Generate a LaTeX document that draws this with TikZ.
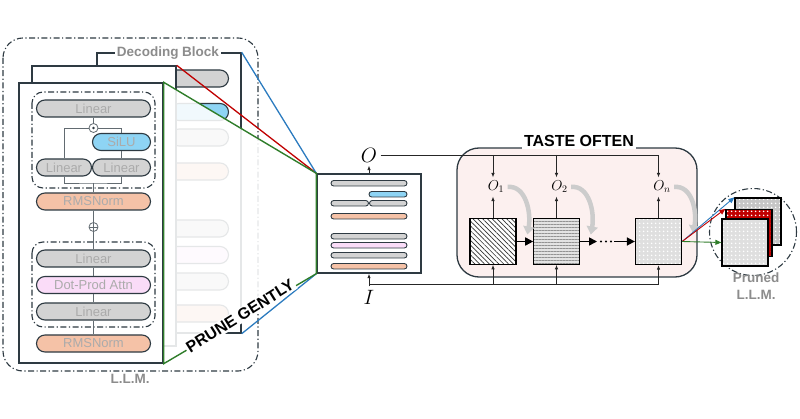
\documentclass[tikz,border=0pt]{standalone}
\usepackage{fontspec}
\setmainfont{Liberation Sans}
\usetikzlibrary{arrows.meta,patterns,patterns.meta,calc}

\definecolor{edge}{HTML}{2E3A42}
\definecolor{lingray}{HTML}{D3D3D3}
\definecolor{silublue}{HTML}{8ED4F4}
\definecolor{normsalmon}{HTML}{F5C2A7}
\definecolor{attnpink}{HTML}{FADCF8}
\definecolor{fadetext}{HTML}{ABABAB}
\definecolor{labelgray}{HTML}{8C8C8C}
\definecolor{tastebg}{HTML}{FCF0EF}
\definecolor{coneblue}{HTML}{2B7BBF}
\definecolor{conered}{HTML}{C00000}
\definecolor{conegreen}{HTML}{2F7D2A}

\tikzset{
  layerbox/.style={draw=edge,line width=1.1pt,rounded corners=8.5pt,inner sep=0pt,minimum height=17pt,text=fadetext,font=\fontsize{13}{13}\selectfont},
  wire/.style={draw=edge!75,line width=0.9pt},
  panel/.style={draw=edge,line width=1.4pt,fill=white,inner sep=0pt},
  dashdot/.style={draw=edge,line width=1.1pt,dash pattern=on 6pt off 2.5pt on 1.2pt off 2.5pt},
  groupbox/.style={dashdot,rounded corners=11pt},
  junction/.style={circle,draw=edge!75,line width=0.8pt,fill=white,inner sep=0pt,minimum size=9pt},
  bar/.style={draw=edge,line width=0.9pt,rounded corners=2.7pt},
  sig/.style={draw=black!85,line width=0.8pt},
  sigarrow/.style={sig,-{Latex[length=4.5pt,width=3.5pt]}},
  flow/.style={draw=black,line width=1.6pt,-{Triangle[length=8pt,width=8pt]}},
  hint/.style={draw=gray!40,line width=4.5pt,-{Triangle[length=8pt,width=11pt]}},
  tilebox/.style={draw=black,line width=1.3pt,minimum width=46pt,minimum height=46pt,inner sep=0pt},
  outarrow/.style={line width=0.9pt,-{Triangle[length=6pt,width=5pt]}},
  grayhead/.style={text=labelgray,font=\bfseries\fontsize{13.5}{17}\selectfont},
  boldhead/.style={text=black,font=\bfseries\fontsize{16}{16}\selectfont},
}

\newcommand{\showlabel}[1]{#1}
\newcommand{\blanklabel}[1]{}
\newcommand{\decodingbody}[2]{%
  \node[panel,minimum width=144pt,minimum height=280pt] (#1panel) at (91,223) {};
  \node[layerbox,fill=lingray,minimum width=114pt] (#1up) at (93.5,108.5) {#2{Linear}};
  \node[layerbox,fill=silublue,minimum width=58pt] (#1silu) at (121.5,142) {#2{SiLU}};
  \node[layerbox,fill=lingray,minimum width=55pt] (#1gate) at (64,167.5) {#2{Linear}};
  \node[layerbox,fill=lingray,minimum width=58pt] (#1val) at (121.5,167.5) {#2{Linear}};
  \node[layerbox,fill=normsalmon,minimum width=114pt] (#1norm) at (93.5,201.5) {#2{RMSNorm}};
  \node[layerbox,fill=lingray,minimum width=114pt] (#1out) at (93.5,258.5) {#2{Linear}};
  \node[layerbox,fill=attnpink,minimum width=114pt] (#1attn) at (93.5,285) {#2{Dot-Prod Attn}};
  \node[layerbox,fill=lingray,minimum width=114pt] (#1qkv) at (93.5,311.5) {#2{Linear}};
  \node[layerbox,fill=normsalmon,minimum width=114pt] (#1pre) at (93.5,343.5) {#2{RMSNorm}};
}
\newcommand{\decodingwires}[1]{%
  \draw[groupbox] (32,92) rectangle (155,188);
  \draw[groupbox] (32,242) rectangle (155,327);
  \node[junction] (#1mul) at (93.5,128) {};
  \fill[edge] (#1mul) circle (1.3pt);
  \node[junction] (#1add) at (93.5,227) {};
  \draw[edge!75,line width=0.8pt] (#1add.north) -- (#1add.south) (#1add.west) -- (#1add.east);
  \coordinate (#1join) at (93.5,183);
  \draw[wire] (#1up) -- (#1mul);
  \draw[wire] (#1gate.north) |- (#1mul.west);
  \draw[wire] (#1silu.north) |- (#1mul.east);
  \draw[wire] (#1silu) -- (#1val);
  \draw[wire] (#1gate.south) |- (#1join) -| (#1val.south);
  \draw[wire] (#1join) -- (#1norm);
  \draw[wire] (#1norm) -- (#1add);
  \draw[wire] (#1add) -- (#1out);
  \draw[wire] (#1out) -- (#1attn);
  \draw[wire] (#1attn) -- (#1qkv);
  \draw[wire] (#1qkv) -- (#1pre);
}

\begin{document}
\begin{tikzpicture}[x=1pt,y=-1pt]
\useasboundingbox (0,0) rectangle (800,419);

\draw[groupbox,rounded corners=20pt] (3,38) rectangle (258,371);
\node[grayhead] (llm) at (130,379) {L.L.M.};

\begin{scope}[shift={(78,-30)}]
\decodingbody{b}{\blanklabel}
\end{scope}
\node[grayhead,fill=white,inner sep=1.5pt] (declabel) at (168,53) {Decoding Block};
\node[panel,minimum width=144pt,minimum height=280pt] (mpanel) at (104,206) {};
\decodingbody{f}{\showlabel}
\decodingwires{f}

\node[panel,minimum width=104pt,minimum height=99pt] (dec) at (369,223.5) {};
\draw[bar,fill=lingray] (331,180.5) rectangle (407,186);
\draw[bar,fill=silublue] (369,191.5) rectangle (407,197);
\draw[bar,fill=lingray] (331,200.5) rectangle (368.5,206);
\draw[bar,fill=lingray] (369.5,200.5) rectangle (407,206);
\draw[bar,fill=normsalmon] (331,213.5) rectangle (407,219);
\draw[bar,fill=lingray] (331,233.5) rectangle (407,239);
\draw[bar,fill=attnpink] (331,242.5) rectangle (407,248);
\draw[bar,fill=lingray] (331,252.5) rectangle (407,258);
\draw[bar,fill=normsalmon] (331,263.5) rectangle (407,269);

\fill[white,opacity=0.88] (fpanel.north east) -- (dec.north west) -- (dec.south west) -- (fpanel.south east) -- cycle;
\draw[conered,line width=1.3pt] (mpanel.north east) -- (dec.north west);
\draw[coneblue,line width=1.3pt] (bpanel.north east) -- (dec.north west) (bpanel.south east) -- (dec.south west);
\draw[conegreen,line width=1.4pt] (fpanel.north east) -- (dec.north west) -- (dec.south west) -- (fpanel.south east) -- cycle;
\node[boldhead,fill=white,rotate=32,inner sep=1.5pt] (prune) at (240,316) {PRUNE GENTLY};

\node[font=\fontsize{20.74}{21}\selectfont] (O) at (369,155) {$O$};
\node[font=\fontsize{20.74}{21}\selectfont] (I) at (369,297) {$I$};
\draw[sigarrow] (dec) -- (O);
\draw[sigarrow] (I) -- (dec);
\coordinate (ibus) at (369,284);

\node[draw=edge,line width=1.3pt,fill=tastebg,rounded corners=22pt,minimum width=240pt,minimum height=129pt] (taste) at (577,212.5) {};
\node[boldhead,fill=white,inner sep=2pt] (tastelabel) at (579,141) {TASTE OFTEN};

\node[tilebox,pattern={Lines[angle=-45,distance=3.4pt,line width=0.7pt]},pattern color=black!80,preaction={fill=white}] (sq1) at (493,241.5) {};
\node[tilebox,preaction={fill=gray!22},pattern={Lines[angle=0,distance=3pt,line width=0.6pt]},pattern color=gray!85] (sq2) at (556.5,241.5) {};
\node[tilebox,preaction={fill=gray!25},pattern={Dots[distance=4pt,radius=1pt]},pattern color=white] (sq3) at (658.5,241.5) {};

\node[font=\fontsize{14.4}{15}\selectfont] (O1) at (496,187) {$O_1$};
\node[font=\fontsize{14.4}{15}\selectfont] (O2) at (559.5,187) {$O_2$};
\node[font=\fontsize{14.4}{15}\selectfont] (On) at (662,187) {$O_n$};

\draw[sigarrow] (O.east) -| (sq3 |- On.north);
\draw[sigarrow] (sq1 |- O.east) -- (sq1 |- O1.north);
\draw[sigarrow] (sq2 |- O.east) -- (sq2 |- O2.north);
\draw[sigarrow] (sq1.north) -- (sq1 |- O1.south);
\draw[sigarrow] (sq2.north) -- (sq2 |- O2.south);
\draw[sigarrow] (sq3.north) -- (sq3 |- On.south);
\draw[sigarrow] (ibus) -| (sq3.south);
\draw[sigarrow] (sq1 |- ibus) -- (sq1.south);
\draw[sigarrow] (sq2 |- ibus) -- (sq2.south);

\draw[hint] (O1.east) .. controls +(18,-2) and +(4,-22) .. ($(sq1.east)+(11,-7)$);
\draw[hint] (O2.east) .. controls +(18,-2) and +(4,-22) .. ($(sq2.east)+(11,-7)$);
\draw[hint] (On.east) .. controls +(18,-2) and +(4,-22) .. ($(sq3.east)+(11,-8)$);

\coordinate (dotsA) at (597,241.5);
\coordinate (dotsB) at (614,241.5);
\draw[flow] (sq1) -- (sq2);
\draw[flow] (sq2) -- (dotsA);
\draw[line width=2.2pt,line cap=round,dash pattern=on 0pt off 5pt] ($(dotsA)+(4,0)$) -- (dotsB);
\draw[flow] (dotsB) -- (sq3);

\node[dashdot,circle,minimum size=87pt] (ring) at (753,232) {};
\node[tilebox,minimum height=47pt,preaction={fill=gray!45},pattern={Dots[distance=4pt,radius=1pt]},pattern color=white] (pback) at (758,221.5) {};
\node[tilebox,minimum height=47pt,preaction={fill=conered},pattern={Dots[distance=4pt,radius=1pt]},pattern color=white] (pmid) at (749,233) {};
\node[tilebox,minimum height=47pt,preaction={fill=gray!25},pattern={Dots[distance=4pt,radius=1pt]},pattern color=white] (pfront) at (745,242.5) {};
\draw[outarrow,coneblue] (sq3.east) -- (pback.north west);
\draw[outarrow,conered] (sq3.east) -- (pmid.north west);
\draw[outarrow,conegreen] (sq3.east) -- (pfront.west);
\node[grayhead,align=center] (prunedlabel) at (756,286) {Pruned\\L.L.M.};
\end{tikzpicture}
\end{document}
